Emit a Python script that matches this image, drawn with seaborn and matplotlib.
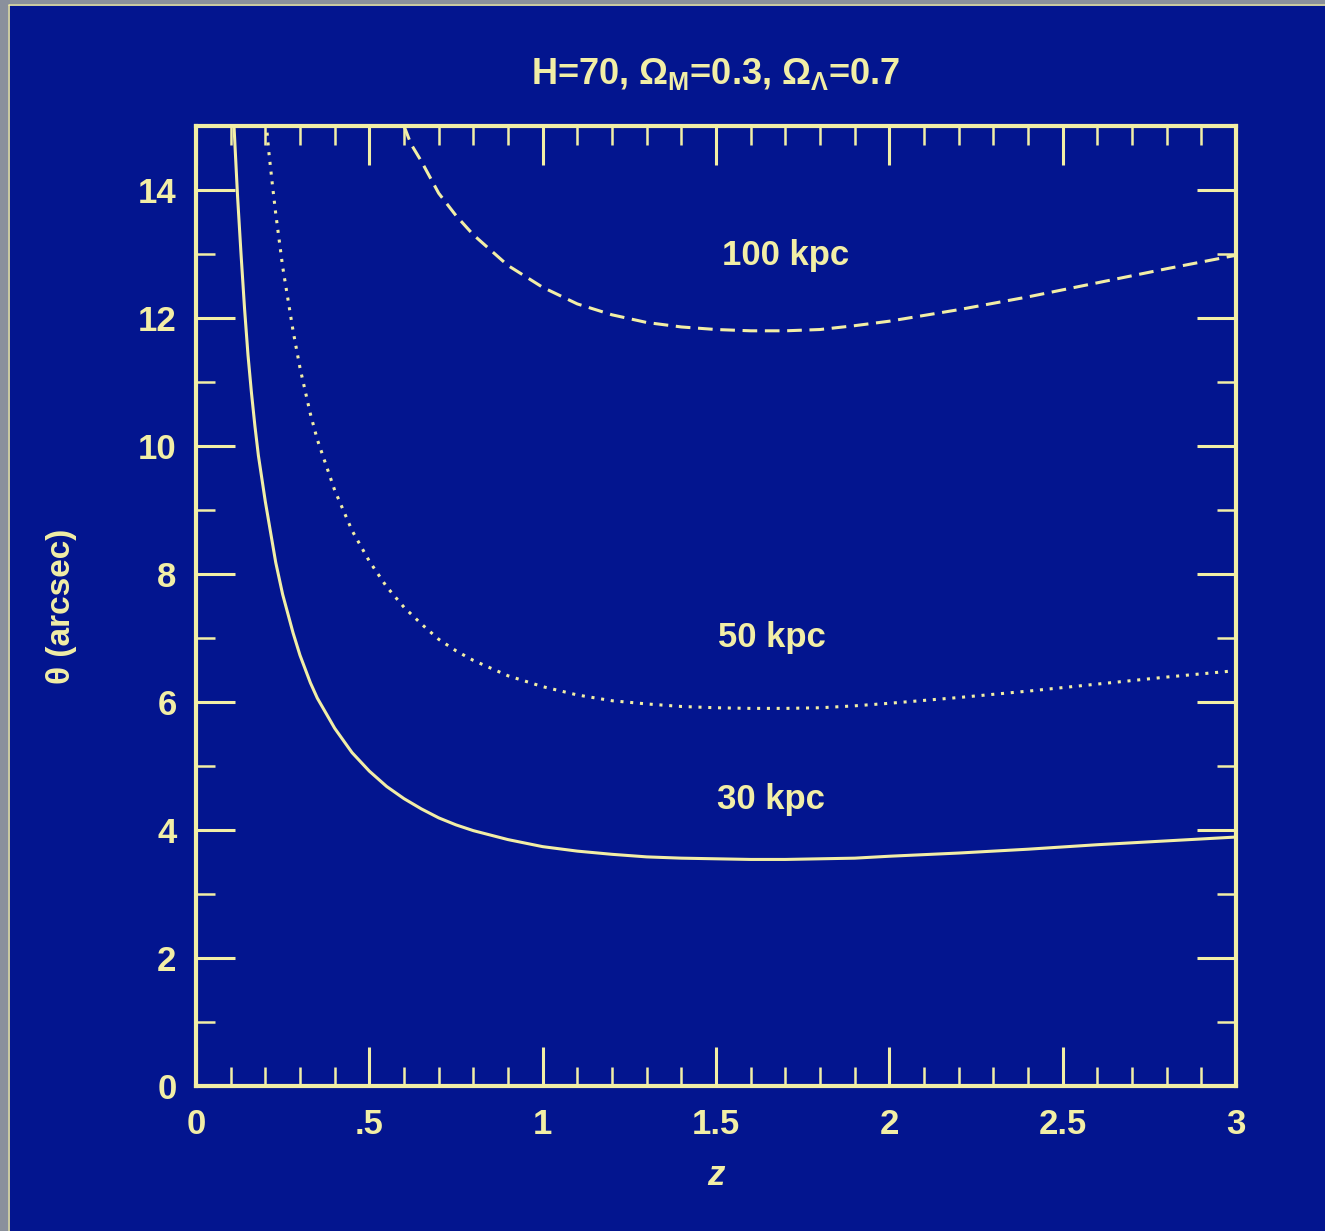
import matplotlib
matplotlib.use("Agg")
import matplotlib.pyplot as plt
import seaborn as sns
import pandas as pd
from matplotlib.patches import Rectangle
from matplotlib.lines import Line2D

# ---- data ----
z_30 = [0.10, 0.11, 0.12, 0.13, 0.14, 0.15, 0.16, 0.17, 0.18, 0.20, 0.23, 0.25, 0.28, 0.30,
        0.33, 0.35, 0.40, 0.45, 0.50, 0.55, 0.60, 0.65, 0.70, 0.75, 0.80, 0.90, 1.0, 1.1,
        1.2, 1.3, 1.4, 1.5, 1.6, 1.7, 1.8, 1.9, 2.0, 2.2, 2.4, 2.6, 2.8, 3.0]
theta_30 = [16.27, 14.96, 13.89, 12.99, 12.15, 11.42, 10.83, 10.31, 9.85, 9.13, 8.18, 7.68, 7.08, 6.73,
            6.30, 6.06, 5.59, 5.21, 4.92, 4.68, 4.49, 4.33, 4.19, 4.08, 3.99, 3.85, 3.74, 3.67,
            3.62, 3.58, 3.56, 3.55, 3.54, 3.54, 3.55, 3.56, 3.59, 3.64, 3.70, 3.77, 3.83, 3.89]

z_50 = [0.20, 0.21, 0.22, 0.23, 0.25, 0.28, 0.30, 0.33, 0.35, 0.40, 0.45, 0.50, 0.55,
        0.60, 0.65, 0.70, 0.75, 0.80, 0.90, 1.0, 1.1, 1.2, 1.3, 1.4, 1.5, 1.6, 1.7, 1.8,
        1.9, 2.0, 2.2, 2.4, 2.6, 2.8, 3.0]
theta_50 = [15.20, 14.60, 14.10, 13.63, 12.80, 11.80, 11.22, 10.50, 10.10, 9.31, 8.68, 8.20, 7.80,
            7.48, 7.22, 6.98, 6.80, 6.65, 6.41, 6.24, 6.11, 6.02, 5.97, 5.93, 5.91, 5.90, 5.90, 5.91,
            5.94, 5.98, 6.07, 6.17, 6.28, 6.39, 6.49]

z_100 = [0.60, 0.62, 0.65, 0.70, 0.75, 0.80, 0.90, 1.0, 1.1, 1.2, 1.3, 1.4, 1.5, 1.6,
         1.7, 1.8, 1.9, 2.0, 2.2, 2.4, 2.6, 2.8, 3.0]
theta_100 = [15.00, 14.72, 14.45, 13.95, 13.60, 13.30, 12.82, 12.48, 12.22, 12.05, 11.93, 11.86,
             11.82, 11.80, 11.80, 11.82, 11.88, 11.95, 12.13, 12.33, 12.55, 12.77, 12.98]

curve_labels = ["100 kpc", "50 kpc", "30 kpc"]
label_z = [1.70, 1.66, 1.66]
label_theta = [12.98, 7.0, 4.47]

x_ticks = [0, 0.5, 1, 1.5, 2, 2.5, 3]
x_ticklabels = ["0", ".5", "1", "1.5", "2", "2.5", "3"]
y_ticks = [0, 2, 4, 6, 8, 10, 12, 14]
y_ticklabels = ["0", "2", "4", "6", "8", "10", "12", "14"]

title_text = r"H=70, $\Omega_{M}$=0.3, $\Omega_{\Lambda}$=0.7"

# ---- style ----
BG = "#03158f"
FG = "#f2eea6"

sns.set_style("ticks")
plt.rcParams["font.family"] = ["Liberation Sans", "DejaVu Sans"]
plt.rcParams["font.weight"] = "bold"
plt.rcParams["mathtext.fontset"] = "custom"
plt.rcParams["mathtext.rm"] = "Liberation Sans:bold"
plt.rcParams["mathtext.it"] = "Liberation Sans:bold"
plt.rcParams["mathtext.bf"] = "Liberation Sans:bold"

fig = plt.figure(figsize=(13.25, 12.31), dpi=100, facecolor=BG)
ax = fig.add_axes([196/1325, 1 - 1086/1231, 1040/1325, 960/1231])
ax.set_facecolor(BG)

df30 = pd.DataFrame({"z": z_30, "theta": theta_30})
df50 = pd.DataFrame({"z": z_50, "theta": theta_50})
df100 = pd.DataFrame({"z": z_100, "theta": theta_100})

sns.lineplot(data=df30, x="z", y="theta", ax=ax, color=FG, lw=2.2, estimator=None, sort=False)
sns.lineplot(data=df50, x="z", y="theta", ax=ax, color=FG, lw=2.2, estimator=None, sort=False)
sns.lineplot(data=df100, x="z", y="theta", ax=ax, color=FG, lw=2.2, estimator=None, sort=False)
lines = ax.get_lines()
for ln in lines:
    ln.set_solid_joinstyle("round")
lines[1].set_dashes([1.0, 2.2])
lines[2].set_dashes([4.8, 2.5])

for t, zx, ty in zip(curve_labels, label_z, label_theta):
    ax.text(zx, ty, t, color=FG, fontsize=25, ha="center", va="center", fontweight="bold")

ax.set_xlim(0, 3)
ax.set_ylim(0, 15)
ax.set_xticks(x_ticks)
ax.set_xticklabels(x_ticklabels)
ax.set_yticks(y_ticks)
ax.set_yticklabels(y_ticklabels)
ax.set_xticks([i / 10 for i in range(31)], minor=True)
ax.set_yticks(list(range(16)), minor=True)

ax.tick_params(which="both", direction="in", top=True, right=True, colors=FG,
               labelsize=25, labelcolor=FG)
ax.tick_params(which="major", length=28, width=2.2)
ax.tick_params(which="minor", length=13.5, width=1.8)
ax.tick_params(axis="x", which="major", pad=16)
ax.tick_params(axis="y", which="major", pad=14)
for sp in ax.spines.values():
    sp.set_color(FG)
    sp.set_linewidth(3)
    sp.set_visible(True)

ax.set_xlabel("z", color=FG, fontsize=25, fontstyle="italic", fontweight="bold", labelpad=13)
ax.set_ylabel("θ (arcsec)", color=FG, fontsize=24, fontweight="bold", labelpad=44)
ax.text(0.5, 1 + (126 - 74) / 960, title_text, transform=ax.transAxes, color=FG,
        fontsize=26, ha="center", va="center", fontweight="bold")

# screenshot frame: grey strips on left/top and thin yellow line
fig.patches.append(Rectangle((0, 0), 8/1325, 1, transform=fig.transFigure,
                             facecolor="#8a909c", edgecolor="none", zorder=-1))
fig.patches.append(Rectangle((0, 1 - 4/1231), 1, 4/1231, transform=fig.transFigure,
                             facecolor="#8a909c", edgecolor="none", zorder=-1))
fig.lines.append(Line2D([9/1325, 9/1325], [0, 1 - 5/1231], transform=fig.transFigure,
                        color=FG, lw=1.2))
fig.lines.append(Line2D([9/1325, 1], [1 - 5/1231, 1 - 5/1231], transform=fig.transFigure,
                        color=FG, lw=1.2))

fig.savefig("out.png", dpi=100, facecolor=BG)
